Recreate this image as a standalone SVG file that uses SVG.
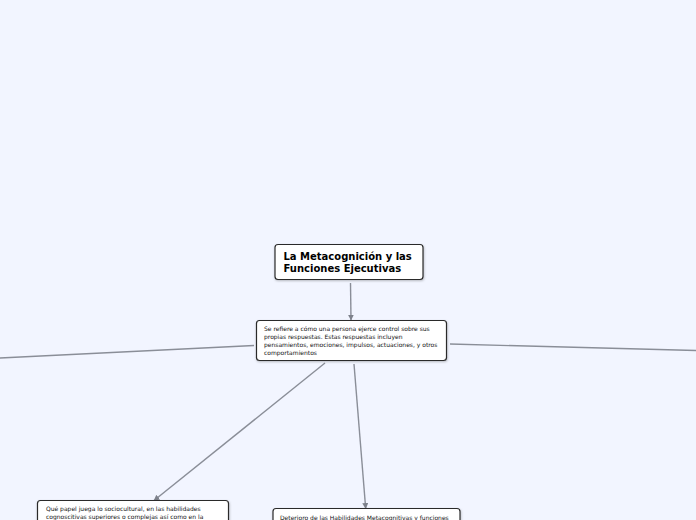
<svg xmlns="http://www.w3.org/2000/svg" width="696" height="520" viewBox="0 0 696 520">
<defs>
<style>
.node{fill:#ffffff;stroke:#2b2b2b;stroke-width:1.2}
.edge{fill:none;stroke:#8a8e98;stroke-width:1.4}
.t1{font-family:"DejaVu Sans",Verdana,sans-serif;font-weight:bold;font-size:10px;fill:#000}
.t2{font-family:"DejaVu Sans",Verdana,sans-serif;font-size:6px;fill:#111}
</style>
<marker id="arr" viewBox="0 0 10 10" refX="9" refY="5" markerWidth="6" markerHeight="6" markerUnits="userSpaceOnUse" orient="auto">
<path d="M0,0 L10,5 L0,10 z" fill="#7d818b"/>
</marker>
<filter id="sh" x="-10%" y="-10%" width="120%" height="130%">
<feDropShadow dx="0.5" dy="1" stdDeviation="0.8" flood-color="#000" flood-opacity="0.25"/>
</filter>
</defs>
<rect width="696" height="520" fill="#f2f5ff"/>
<g id="connectors">
<line class="edge" x1="350.5" y1="283" x2="351" y2="320" marker-end="url(#arr)"/>
<line class="edge" x1="254" y1="345.5" x2="0" y2="358"/>
<line class="edge" x1="450" y1="344" x2="696" y2="350.5"/>
<line class="edge" x1="325" y1="363" x2="154" y2="500.5" marker-end="url(#arr)"/>
<line class="edge" x1="354" y1="364" x2="365.7" y2="508.5" marker-end="url(#arr)"/>
</g>
<g id="node-main">
<rect class="node" x="275" y="244.5" width="148" height="35" rx="3" filter="url(#sh)"/>
<text class="t1" x="283.5" y="260">La Metacognición y las</text>
<text class="t1" x="283.5" y="272">Funciones Ejecutivas</text>
</g>
<g id="node-def">
<rect class="node" x="256.5" y="320.5" width="190" height="40" rx="3" filter="url(#sh)"/>
<text class="t2" x="264" y="331">Se refiere a cómo una persona ejerce control sobre sus</text>
<text class="t2" x="264" y="339">propias respuestas. Estas respuestas incluyen</text>
<text class="t2" x="264" y="346.5">pensamientos, emociones, impulsos, actuaciones, y otros</text>
<text class="t2" x="264" y="354.5">comportamientos</text>
</g>
<g id="node-socio">
<rect class="node" x="37.5" y="500.5" width="191" height="40" rx="3" filter="url(#sh)"/>
<text class="t2" x="46" y="511">Qué papel juega lo sociocultural, en las habilidades</text>
<text class="t2" x="46" y="519">cognoscitivas superiores o complejas así como en la</text>
</g>
<g id="node-deterioro">
<rect class="node" x="273" y="508.5" width="187" height="30" rx="3" filter="url(#sh)"/>
<text class="t2" x="280" y="519.5">Deterioro de las Habilidades Metacognitivas y funciones</text>
</g>
</svg>
